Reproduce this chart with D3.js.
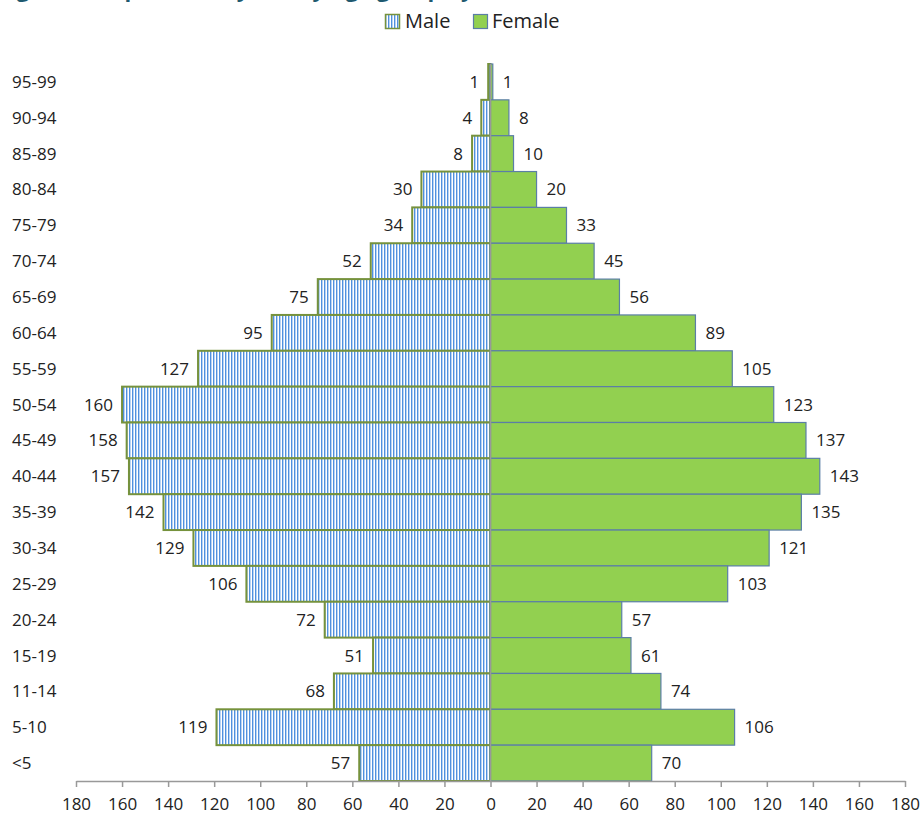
<!DOCTYPE html>
<html>
<head>
<meta charset="utf-8">
<script src="https://cdn.jsdelivr.net/npm/d3@7"></script>
<style>
  body { margin: 0; background: #fff; }
  text { font-family: "Open Sans", "Noto Sans", sans-serif; }
</style>
</head>
<body>
<svg id="chart" width="921" height="814"></svg>
<script>
// age groups, top to bottom
var ageGroups = ["95-99", "90-94", "85-89", "80-84", "75-79", "70-74", "65-69", "60-64", "55-59", "50-54",
                 "45-49", "40-44", "35-39", "30-34", "25-29", "20-24", "15-19", "11-14", "5-10", "<5"];
var maleValues = [1, 4, 8, 30, 34, 52, 75, 95, 127, 160, 158, 157, 142, 129, 106, 72, 51, 68, 119, 57];
var femaleValues = [1, 8, 10, 20, 33, 45, 56, 89, 105, 123, 137, 143, 135, 121, 103, 57, 61, 74, 106, 70];
var tickValues = [-180, -160, -140, -120, -100, -80, -60, -40, -20, 0, 20, 40, 60, 80, 100, 120, 140, 160, 180];
var seriesNames = ["Male", "Female"];

var svg = d3.select("#chart");

var x = d3.scaleLinear().domain([-180, 180]).range([76, 905]);
var y = d3.scaleBand().domain(ageGroups).range([64, 781]).padding(0);

// striped fill for male bars
var defs = svg.append("defs");
var pat = defs.append("pattern")
    .attr("id", "maleStripes")
    .attr("patternUnits", "userSpaceOnUse")
    .attr("width", 3).attr("height", 10);
pat.append("rect").attr("width", 3).attr("height", 10).attr("fill", "#b9d3f2");
pat.append("rect").attr("x", 0).attr("width", 1).attr("height", 10).attr("fill", "#5090de");
pat.append("rect").attr("x", 2).attr("width", 1).attr("height", 10).attr("fill", "#ffffff");

// title, cut off at the top edge like the source image
svg.append("text")
    .attr("x", -2).attr("y", -3)
    .attr("fill", "#1f5a70")
    .attr("font-size", 22)
    .attr("font-weight", "bold")
    .text("Figure 2: Population by Sex by Age group by Area, 2014");

// legend
var legend = svg.append("g").attr("transform", "translate(385,14)");
legend.append("rect").attr("x", 0.5).attr("y", 0.5).attr("width", 14).attr("height", 14)
    .attr("fill", "url(#maleStripes)").attr("stroke", "#76923c").attr("stroke-width", 1.5);
legend.append("text").attr("x", 20).attr("y", 14).attr("font-size", 20).attr("fill", "#222").text(seriesNames[0]);
legend.append("rect").attr("x", 88.5).attr("y", 0.5).attr("width", 14).attr("height", 14)
    .attr("fill", "#92d050").attr("stroke", "#5b7ea6").attr("stroke-width", 1.2);
legend.append("text").attr("x", 107).attr("y", 14).attr("font-size", 20).attr("fill", "#222").text(seriesNames[1]);

// male bars
svg.selectAll(".male")
    .data(maleValues)
    .enter()
    .append("rect")
    .attr("class", "male")
    .attr("x", function(d) { return x(-d); })
    .attr("y", function(d, i) { return y(ageGroups[i]); })
    .attr("width", function(d) { return x(0) - x(-d); })
    .attr("height", y.bandwidth())
    .attr("fill", "url(#maleStripes)")
    .attr("stroke", "#76923c")
    .attr("stroke-width", 2);

// female bars
svg.selectAll(".female")
    .data(femaleValues)
    .enter()
    .append("rect")
    .attr("class", "female")
    .attr("x", x(0))
    .attr("y", function(d, i) { return y(ageGroups[i]); })
    .attr("width", function(d) { return x(d) - x(0); })
    .attr("height", y.bandwidth())
    .attr("fill", "#92d050")
    .attr("stroke", "#5b7ea6")
    .attr("stroke-width", 1.2);

// value labels
svg.selectAll(".mlab")
    .data(maleValues)
    .enter()
    .append("text")
    .attr("class", "mlab")
    .attr("x", function(d) { return x(-d) - 9; })
    .attr("y", function(d, i) { return y(ageGroups[i]) + y.bandwidth() / 2 + 6; })
    .attr("text-anchor", "end")
    .attr("font-size", 17)
    .attr("fill", "#222")
    .text(function(d) { return d; });

svg.selectAll(".flab")
    .data(femaleValues)
    .enter()
    .append("text")
    .attr("class", "flab")
    .attr("x", function(d) { return x(d) + 10; })
    .attr("y", function(d, i) { return y(ageGroups[i]) + y.bandwidth() / 2 + 6; })
    .attr("text-anchor", "start")
    .attr("font-size", 17)
    .attr("fill", "#222")
    .text(function(d) { return d; });

// category labels
svg.selectAll(".cat")
    .data(ageGroups)
    .enter()
    .append("text")
    .attr("class", "cat")
    .attr("x", 12)
    .attr("y", function(d) { return y(d) + y.bandwidth() / 2 + 6; })
    .attr("font-size", 17)
    .attr("fill", "#222")
    .text(function(d) { return d; });

// vertical axis at zero
svg.append("line")
    .attr("x1", x(0)).attr("x2", x(0))
    .attr("y1", 64).attr("y2", 781)
    .attr("stroke", "#999").attr("stroke-width", 1.5);

// bottom axis
var xAxis = d3.axisBottom(x)
    .tickValues(tickValues)
    .tickSize(6)
    .tickSizeOuter(0)
    .tickFormat(function(d) { return Math.abs(d); });
var ax = svg.append("g")
    .attr("transform", "translate(0,781)")
    .call(xAxis);
ax.select(".domain").attr("stroke", "#999").attr("stroke-width", 1.5);
ax.selectAll(".tick line").attr("stroke", "#999").attr("stroke-width", 1.5);
ax.selectAll(".tick text")
    .attr("font-size", 17)
    .attr("fill", "#222")
    .attr("dy", "1.2em")
    .style("font-family", "'Open Sans', 'Noto Sans', sans-serif");
</script>
</body>
</html>
